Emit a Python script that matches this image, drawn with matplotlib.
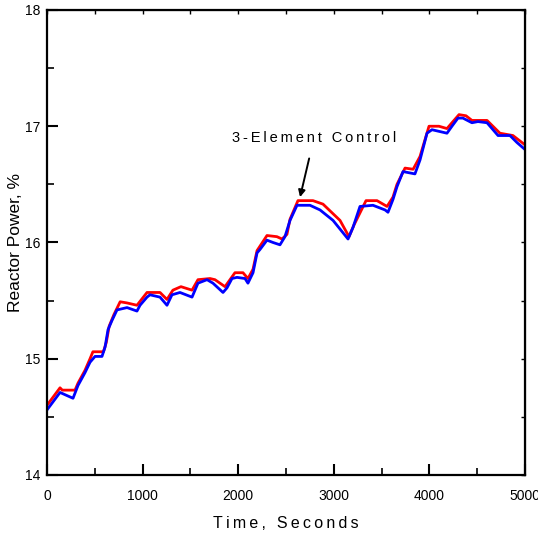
import matplotlib.pyplot as plt
from matplotlib.ticker import MultipleLocator

# ---- data ----
blue_t = [0, 136, 272, 324, 397, 450, 502, 575, 607, 638, 680, 732, 837, 941,
          973, 1046, 1077, 1182, 1255, 1307, 1391, 1517, 1579, 1674, 1736, 1841,
          1883, 1935, 1987, 2071, 2102, 2155, 2197, 2228, 2301, 2364, 2437, 2489,
          2542, 2615, 2751, 2856, 2992, 3149, 3201, 3274, 3410, 3536, 3567, 3619,
          3661, 3724, 3849, 3902, 3975, 4027, 4132, 4184, 4236, 4299, 4351, 4445,
          4508, 4603, 4718, 4843, 4916, 5000]
blue_p = [14.56, 14.71, 14.66, 14.77, 14.88, 14.97, 15.02, 15.02, 15.10, 15.25,
          15.33, 15.42, 15.44, 15.41, 15.46, 15.53, 15.55, 15.53, 15.46, 15.55,
          15.57, 15.53, 15.65, 15.68, 15.65, 15.57, 15.61, 15.69, 15.70, 15.69,
          15.65, 15.74, 15.91, 15.94, 16.02, 16.00, 15.98, 16.05, 16.19, 16.32,
          16.32, 16.28, 16.19, 16.03, 16.13, 16.31, 16.32, 16.28, 16.26, 16.37,
          16.48, 16.61, 16.59, 16.71, 16.94, 16.97, 16.95, 16.94, 17.00, 17.07,
          17.07, 17.03, 17.04, 17.03, 16.92, 16.92, 16.86, 16.80]

red_t = [0, 136, 160, 293, 324, 397, 450, 480, 590, 620, 650, 700, 765, 837,
         941, 1046, 1077, 1182, 1255, 1317, 1401, 1517, 1579, 1705, 1757, 1862,
         1966, 2050, 2102, 2155, 2197, 2301, 2405, 2458, 2510, 2542, 2625, 2782,
         2887, 3065, 3159, 3211, 3337, 3452, 3557, 3619, 3661, 3745, 3830, 3902,
         3996, 4100, 4184, 4236, 4310, 4383, 4445, 4603, 4738, 4874, 5000]
red_p = [14.60, 14.75, 14.73, 14.73, 14.79, 14.90, 15.00, 15.06, 15.06, 15.14,
         15.28, 15.38, 15.49, 15.48, 15.46, 15.57, 15.57, 15.57, 15.51, 15.59,
         15.62, 15.59, 15.68, 15.69, 15.68, 15.62, 15.74, 15.74, 15.69, 15.77,
         15.93, 16.06, 16.05, 16.03, 16.07, 16.20, 16.36, 16.36, 16.33, 16.19,
         16.05, 16.15, 16.36, 16.36, 16.31, 16.39, 16.50, 16.64, 16.63, 16.74,
         17.00, 17.00, 16.98, 17.03, 17.10, 17.09, 17.05, 17.05, 16.94, 16.92,
         16.84]

plt.rcParams['font.family'] = ['Liberation Sans', 'DejaVu Sans']

fig = plt.figure(figsize=(5.38, 5.34), dpi=100)
ax = fig.add_axes([0.0874, 0.1105, 0.8884, 0.8708])

ax.plot(red_t, red_p, color='#ff0000', lw=2.0)
ax.plot(blue_t, blue_p, color='#0000ff', lw=2.0)

ax.set_xlim(0, 5000)
ax.set_ylim(14, 18)
ax.xaxis.set_major_locator(MultipleLocator(1000))
ax.xaxis.set_minor_locator(MultipleLocator(500))
ax.yaxis.set_major_locator(MultipleLocator(1))
ax.yaxis.set_minor_locator(MultipleLocator(0.5))
ax.tick_params(which='major', direction='in', length=8, width=1.5, labelsize=10, pad=5)
ax.tick_params(axis='x', which='major', pad=10)
ax.tick_params(which='minor', direction='in', length=5, width=1.2)
for s in ax.spines.values():
    s.set_linewidth(1.6)

# small ticks on top and right
top = ax.secondary_xaxis('top')
top.xaxis.set_major_locator(MultipleLocator(500))
top.tick_params(direction='in', length=3, width=1.0, labeltop=False)
right = ax.secondary_yaxis('right')
right.yaxis.set_major_locator(MultipleLocator(0.5))
right.tick_params(direction='in', length=3, width=1.0, labelright=False)

sp = '\u2009'
ax.set_xlabel(sp.join('Time, Seconds'), fontsize=11.5)
ax.xaxis.set_label_coords(0.5, -0.088)
ax.set_ylabel('Reactor Power, %', fontsize=12.5)
ax.yaxis.set_label_coords(-0.05, 0.5)

ax.annotate(sp.join('3-Element Control'), xy=(2647, 16.39), xytext=(2793, 16.90),
            ha='center', va='center', fontsize=10.5,
            arrowprops=dict(arrowstyle='-|>', color='black', lw=1.4,
                            shrinkA=8, shrinkB=0, mutation_scale=10))

fig.savefig('out.png', dpi=100)
